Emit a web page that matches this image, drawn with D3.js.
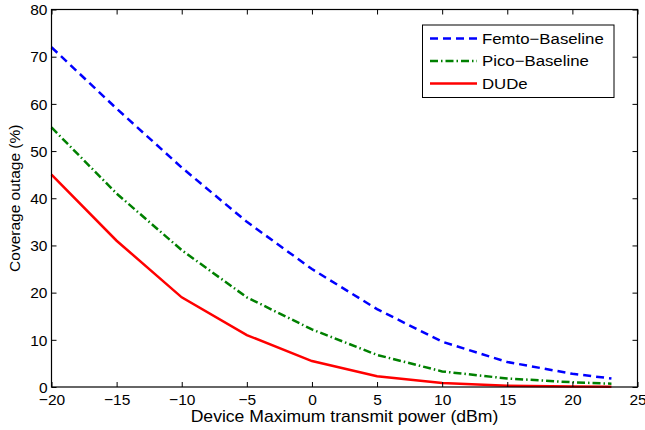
<!DOCTYPE html>
<html><head><meta charset="utf-8">
<script src="https://cdn.jsdelivr.net/npm/d3@7"></script>
<style>body{margin:0;background:#fff}svg{display:block}text{font-family:"Liberation Sans",Arial,sans-serif}</style>
</head><body>
<svg id="c" width="645" height="430"></svg>
<script>
const xValues = [-20, -15, -10, -5, 0, 5, 10, 15, 20, 23];
const femto = [72, 59, 46.5, 35, 25, 16.5, 9.6, 5.3, 2.8, 1.8];
const pico = [55, 41, 29, 19, 12.2, 6.8, 3.3, 1.8, 1.0, 0.7];
const dude = [45, 31, 19, 11, 5.5, 2.3, 0.85, 0.25, 0.1, 0.05];
const xTicks = [-20, -15, -10, -5, 0, 5, 10, 15, 20, 25];
const yTicks = [0, 10, 20, 30, 40, 50, 60, 70, 80];
const seriesNames = ["Femto\u2212Baseline", "Pico\u2212Baseline", "DUDe"];

const svg = d3.select("#c");
const L = 51.5, R = 637.5, T = 9.5, B = 387;
const x = d3.scaleLinear().domain([-20, 25]).range([L, R]);
const y = d3.scaleLinear().domain([0, 80]).range([B, T]);
const FONT = '"Liberation Sans",Arial,sans-serif';

const series = [
  {name: seriesNames[0], vals: femto, color: "#0000ff", dash: "8,5"},
  {name: seriesNames[1], vals: pico, color: "#008000", dash: "8,3,1.5,3"},
  {name: seriesNames[2], vals: dude, color: "#ff0000", dash: null}
];

const line = d3.line().x(d => x(d[0])).y(d => y(d[1]));
series.forEach(s => {
  svg.append("path").datum(xValues.map((v, i) => [v, s.vals[i]]))
    .attr("d", line).attr("fill", "none").attr("stroke", s.color)
    .attr("stroke-width", 2.5).attr("stroke-dasharray", s.dash);
});

// axes
const fs = 15.5;
const gx = svg.append("g").attr("transform", `translate(0,${B})`)
  .call(d3.axisBottom(x).tickValues(xTicks).tickSize(-5).tickPadding(4).tickFormat(d => d < 0 ? "\u2212" + Math.abs(d) : d));
const gxt = svg.append("g").attr("transform", `translate(0,${T})`)
  .call(d3.axisTop(x).tickValues(xTicks).tickSize(-5).tickFormat(""));
const gy = svg.append("g").attr("transform", `translate(${L},0)`)
  .call(d3.axisLeft(y).tickValues(yTicks).tickSize(-5).tickPadding(4));
const gyr = svg.append("g").attr("transform", `translate(${R},0)`)
  .call(d3.axisRight(y).tickValues(yTicks).tickSize(-5).tickFormat(""));
[gx, gxt, gy, gyr].forEach(g => {
  g.select(".domain").remove();
  g.selectAll("line").attr("stroke", "#000").attr("stroke-width", 1);
  g.selectAll("text").attr("font-size", fs).attr("fill", "#000").style("font-family", FONT);
});
gx.selectAll("text").attr("dy", "0.88em");
gy.selectAll("text").attr("dy", "0.34em");
svg.append("rect").attr("x", L).attr("y", T).attr("width", R - L).attr("height", B - T)
  .attr("fill", "none").attr("stroke", "#000").attr("stroke-width", 1.2);

svg.append("text").attr("transform", `translate(${(L + R) / 2},422) scale(1.1,1)`)
  .attr("text-anchor", "middle").attr("font-size", 16).text("Device Maximum transmit power (dBm)");
svg.append("text").attr("transform", `translate(20,${(T + B) / 2}) rotate(-90)`)
  .attr("text-anchor", "middle").attr("font-size", 15.5).text("Coverage outage (%)");

// legend
const lg = svg.append("g");
lg.append("rect").attr("x", 422.5).attr("y", 25).attr("width", 191.5).attr("height", 72.5)
  .attr("fill", "#fff").attr("stroke", "#000").attr("stroke-width", 1);
const ly = [38.5, 61, 83.5];
series.forEach((s, i) => {
  lg.append("line").attr("x1", 430).attr("x2", 477).attr("y1", ly[i]).attr("y2", ly[i])
    .attr("stroke", s.color).attr("stroke-width", 2.5).attr("stroke-dasharray", s.dash);
  lg.append("text").attr("transform", `translate(482,${ly[i]}) scale(1.12,1)`).attr("dy", "0.36em")
    .attr("font-size", 15).text(s.name);
});
</script>
</body></html>
